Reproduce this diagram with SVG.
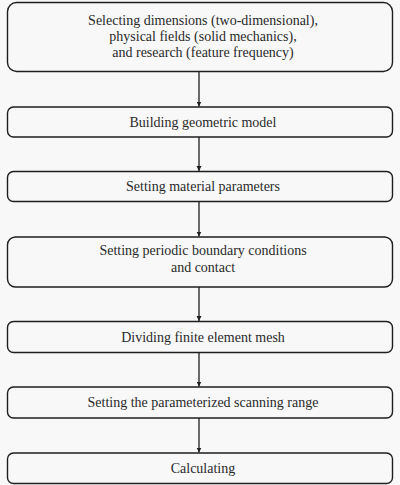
<svg xmlns="http://www.w3.org/2000/svg" width="400" height="485" viewBox="0 0 400 485">
<style>
.box{fill:#f8f8f8;stroke:#1e1e1e;stroke-width:1.4}
.t{font-family:"Liberation Serif","Times New Roman",serif;font-size:14px;fill:#2a2a2a;text-anchor:middle}
.c{stroke:#1e1e1e;stroke-width:1.3;fill:none;marker-end:url(#ah)}
</style>
<defs>
<marker id="ah" markerWidth="6" markerHeight="6" refX="5" refY="3" orient="auto" markerUnits="userSpaceOnUse">
<path d="M0,0.5 L5,3 L0,5.5 Z" fill="#1e1e1e"/>
</marker>
</defs>
<rect width="400" height="485" fill="#f8f8f8"/>
<g id="connectors">
<line class="c" x1="199" y1="71.5" x2="199" y2="106.5"/>
<line class="c" x1="199" y1="137" x2="199" y2="171"/>
<line class="c" x1="199" y1="201.5" x2="199" y2="236.5"/>
<line class="c" x1="199" y1="287" x2="199" y2="321"/>
<line class="c" x1="199" y1="352.5" x2="199" y2="386.5"/>
<line class="c" x1="199" y1="418" x2="199" y2="452.5"/>
</g>
<g id="n1">
<rect class="box" x="7.5" y="2.5" width="385" height="69" rx="9"/>
<text class="t" x="203" y="25">Selecting dimensions (two-dimensional),</text>
<text class="t" x="203" y="41">physical fields (solid mechanics),</text>
<text class="t" x="203" y="57">and research (feature frequency)</text>
</g>
<g id="n2">
<rect class="box" x="7.5" y="107" width="385" height="30" rx="6"/>
<text class="t" x="203" y="126.5">Building geometric model</text>
</g>
<g id="n3">
<rect class="box" x="7.5" y="171.5" width="385" height="30" rx="6"/>
<text class="t" x="203" y="191">Setting material parameters</text>
</g>
<g id="n4">
<rect class="box" x="7.5" y="237" width="385" height="50" rx="8"/>
<text class="t" x="203" y="255">Setting periodic boundary conditions</text>
<text class="t" x="203" y="271.5">and contact</text>
</g>
<g id="n5">
<rect class="box" x="7.5" y="321.5" width="385" height="31" rx="6"/>
<text class="t" x="203" y="341.5">Dividing finite element mesh</text>
</g>
<g id="n6">
<rect class="box" x="7.5" y="387" width="385" height="31" rx="6"/>
<text class="t" x="203" y="407">Setting the parameterized scanning range</text>
</g>
<g id="n7">
<rect class="box" x="7.5" y="453" width="385" height="30.5" rx="6"/>
<text class="t" x="203" y="473">Calculating</text>
</g>
</svg>
